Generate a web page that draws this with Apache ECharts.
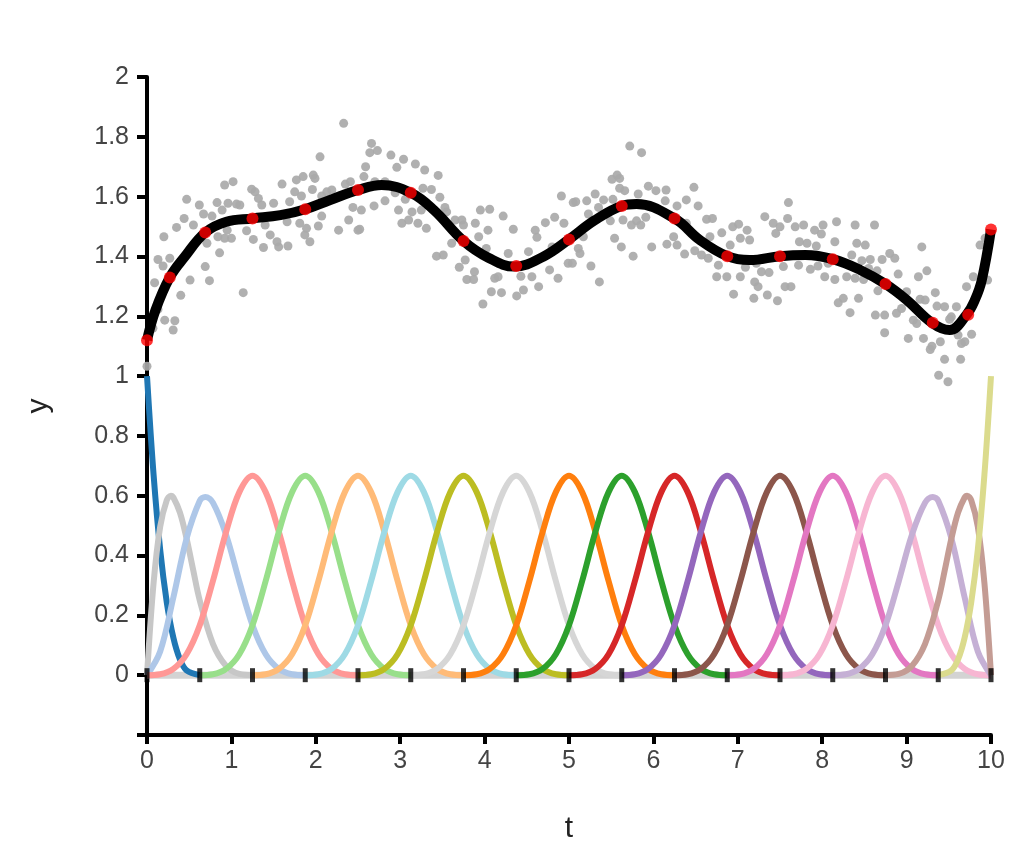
<!DOCTYPE html>
<html>
<head>
<meta charset="utf-8">
<script src="https://cdn.jsdelivr.net/npm/echarts@6/dist/echarts.min.js"></script>
<style>
  html, body { margin: 0; padding: 0; background: #fff; }
  #main { width: 1018px; height: 850px; }
</style>
</head>
<body>
<div id="main"></div>
<script>
// ---------- data ----------
// knots (black marks along y = 0)
var knots = [0, 0.625, 1.25, 1.875, 2.5, 3.125, 3.75, 4.375, 5, 5.625, 6.25, 6.875, 7.5, 8.125, 8.75, 9.375, 10];

// interior basis bump: offsets from its centre and heights
var bumpOffsets = [-1.25, -1.094, -0.9375, -0.781, -0.625, -0.469, -0.3125, -0.156, 0,
                   0.156, 0.3125, 0.469, 0.625, 0.781, 0.9375, 1.094, 1.25];
var bumpValues = [0, 0.003, 0.021, 0.07, 0.167, 0.315, 0.479, 0.612, 0.667,
                  0.612, 0.479, 0.315, 0.167, 0.07, 0.021, 0.003, 0];
var bumpCenters = [1.25, 1.875, 2.5, 3.125, 3.75, 4.375, 5, 5.625, 6.25, 6.875, 7.5, 8.125, 8.75];

// edge basis functions: distance from the nearest end, and heights
var edge0T = [0, 0.078, 0.156, 0.234, 0.3125, 0.39, 0.469, 0.625];
var edge0 = [1, 0.67, 0.42, 0.244, 0.125, 0.053, 0.016, 0];
var edge1T = [0, 0.078, 0.156, 0.234, 0.283, 0.3125, 0.39, 0.469, 0.547, 0.625, 0.781, 0.9375, 1.094, 1.25];
var edge1 = [0, 0.308, 0.496, 0.585, 0.6, 0.594, 0.544, 0.457, 0.352, 0.25, 0.105, 0.031, 0.004, 0];
var edge2T = [0, 0.156, 0.3125, 0.469, 0.625, 0.69, 0.781, 0.9375, 1.094, 1.25, 1.406, 1.5625, 1.719, 1.875];
var edge2 = [0, 0.079, 0.26, 0.457, 0.583, 0.596, 0.577, 0.469, 0.313, 0.167, 0.07, 0.021, 0.003, 0];

// colours of the 19 basis curves, left to right
var basisColors = ['#1f77b4', '#c7c7c7', '#aec7e8', '#ff9896', '#98df8a', '#ffbb78', '#9edae5',
                   '#bcbd22', '#d6d6d6', '#ff7f0e', '#2ca02c', '#d62728', '#9467bd', '#8c564b',
                   '#e377c2', '#f7b6d2', '#c5b0d5', '#c49c94', '#dbdb8d'];

// fitted curve
var fitT = [0, 0.1, 0.27, 0.45, 0.69, 0.94, 1.25, 1.58, 1.875, 2.17, 2.5, 2.78, 3.125, 3.4, 3.75,
            4.05, 4.35, 4.7, 5, 5.3, 5.625, 5.8, 6.25, 6.55, 6.875, 7.14, 7.5, 7.8, 8.125, 8.45,
            8.75, 9.0, 9.3, 9.51, 9.71, 9.81, 9.89, 10];
var fitY = [1.12, 1.22, 1.33, 1.40, 1.48, 1.516, 1.527, 1.538, 1.558, 1.589, 1.622, 1.639, 1.613, 1.555, 1.452,
            1.395, 1.366, 1.40, 1.457, 1.52, 1.569, 1.575, 1.527, 1.455, 1.401, 1.388, 1.401, 1.405, 1.391, 1.355,
            1.308, 1.255, 1.178, 1.154, 1.205, 1.255, 1.32, 1.49];

// red points on the fit
var redT = [0, 0.27, 0.69, 1.25, 1.875, 2.5, 3.125, 3.75, 4.375, 5, 5.625, 6.25, 6.875, 7.5, 8.125, 8.75, 9.31, 9.73, 10];
var redY = [1.12, 1.33, 1.48, 1.527, 1.558, 1.622, 1.613, 1.452, 1.368, 1.457, 1.569, 1.527, 1.401, 1.401, 1.391, 1.308, 1.178, 1.205, 1.49];

// noisy observations (grey dots)
var noisyPoints = [
  [2.33,1.845],[2.05,1.733],[0.92,1.639],[1.02,1.65],[0.47,1.591],[0.62,1.572],[0.83,1.58],[0.89,1.555],
  [0.96,1.578],[1.06,1.575],[1.10,1.572],[1.24,1.625],[1.28,1.616],[1.32,1.594],[1.36,1.572],[1.50,1.578],
  [1.60,1.642],[1.69,1.583],[1.77,1.656],[1.85,1.667],[1.75,1.616],[1.83,1.602],[1.97,1.672],[1.99,1.661],
  [1.96,1.624],[2.07,1.602],[2.13,1.616],[2.19,1.622],[2.29,1.602],[2.35,1.642],[2.41,1.65],[2.44,1.564],
  [2.39,1.522],[2.27,1.488],[2.50,1.488],[2.03,1.502],[2.07,1.535],[1.93,1.449],[1.87,1.472],[1.89,1.494],
  [1.81,1.511],[1.66,1.516],[1.67,1.435],[1.56,1.432],[1.54,1.449],[1.46,1.472],[1.38,1.43],[1.40,1.505],
  [1.26,1.457],[1.18,1.486],[1.00,1.461],[0.92,1.461],[0.84,1.466],[0.95,1.488],[0.86,1.412],[0.71,1.444],
  [0.77,1.535],[0.67,1.542],[0.55,1.505],[0.44,1.527],[0.35,1.497],[0.20,1.466],[0.13,1.39],[0.19,1.368],
  [0.27,1.394],[0.69,1.366],[0.51,1.321],[0.74,1.319],[0.09,1.312],[0.40,1.27],[1.14,1.279],[0.13,1.223],
  [0.21,1.187],[0.33,1.185],[0.31,1.154],[0.07,1.16],[0.0,1.033],
  [2.66,1.778],[2.64,1.747],[2.73,1.754],[2.89,1.739],[3.04,1.725],[2.96,1.698],[3.18,1.709],[3.29,1.689],
  [3.45,1.671],[2.59,1.70],[2.57,1.667],[2.70,1.65],[2.82,1.65],[2.94,1.613],[3.06,1.591],[3.27,1.628],
  [3.37,1.624],[3.47,1.598],[3.53,1.564],[3.55,1.549],[3.25,1.555],[3.14,1.549],[2.98,1.555],[2.82,1.586],
  [2.69,1.569],[2.54,1.555],[2.52,1.491],[3.02,1.511],[3.10,1.522],[3.21,1.511],[3.31,1.494],[3.65,1.522],
  [3.73,1.522],[3.75,1.505],[3.89,1.511],[3.95,1.555],[4.06,1.558],[4.22,1.535],[4.04,1.488],[3.93,1.466],
  [3.61,1.444],[3.43,1.401],[3.51,1.405],[3.70,1.364],[3.77,1.388],[3.79,1.323],[3.87,1.323],[3.88,1.349],
  [4.02,1.427],[4.28,1.41],[4.34,1.491],[4.12,1.327],[4.16,1.332],[4.08,1.282],[4.20,1.279],[3.98,1.241],
  [4.38,1.268],[4.46,1.288],[4.64,1.299],[4.43,1.334],[4.56,1.332],[4.40,1.366],[4.52,1.416],[4.60,1.488],
  [4.62,1.464],[4.72,1.513],[4.83,1.531],[4.94,1.511],[4.91,1.602],[4.77,1.355],[4.87,1.327],[4.80,1.432],
  [4.99,1.377],[5.05,1.58],
  [5.72,1.769],[5.86,1.747],[5.51,1.658],[5.57,1.672],[5.60,1.661],[5.60,1.628],[5.66,1.62],[5.82,1.609],
  [5.94,1.635],[6.03,1.62],[6.15,1.622],[6.48,1.631],[5.31,1.609],[5.21,1.586],[5.08,1.583],[5.41,1.589],
  [5.52,1.591],[5.35,1.564],[5.23,1.542],[6.39,1.589],[6.28,1.569],[6.53,1.569],[6.14,1.586],[6.63,1.524],
  [6.70,1.527],[6.39,1.511],[5.91,1.531],[5.80,1.519],[5.74,1.505],[5.85,1.505],[5.64,1.522],[5.49,1.519],
  [5.17,1.466],[5.54,1.461],[5.62,1.432],[5.76,1.401],[5.98,1.432],[6.16,1.441],[6.24,1.466],[6.28,1.438],
  [6.37,1.408],[6.49,1.419],[6.57,1.405],[6.65,1.394],[6.67,1.466],[6.81,1.479],[6.94,1.499],[7.01,1.508],
  [7.11,1.488],[7.03,1.461],[7.14,1.455],[6.91,1.438],[5.11,1.427],[5.13,1.41],[5.04,1.377],[5.26,1.368],
  [5.36,1.315],[6.75,1.332],[6.87,1.332],[6.77,1.371],[7.03,1.332],[7.09,1.364],[7.22,1.377],[7.28,1.349],
  [7.37,1.346],[7.20,1.315],[7.24,1.299],[6.95,1.274],[7.19,1.26],[7.35,1.271],[7.47,1.252],[7.32,1.533],
  [7.42,1.511],[7.50,1.499],[7.45,1.477],[7.60,1.58],[7.59,1.527],[7.54,1.366],[7.56,1.299],
  [7.68,1.499],[7.78,1.505],[7.91,1.488],[8.01,1.505],[7.99,1.475],[8.17,1.516],[8.39,1.505],[8.62,1.505],
  [8.15,1.449],[7.73,1.449],[7.82,1.444],[7.93,1.435],[7.72,1.371],[7.86,1.357],[7.95,1.368],[8.07,1.377],
  [8.03,1.332],[8.15,1.323],[8.29,1.332],[8.41,1.444],[8.51,1.438],[8.35,1.405],[8.47,1.386],[8.57,1.39],
  [8.55,1.36],[8.39,1.327],[8.49,1.323],[8.65,1.352],[8.71,1.39],[8.80,1.41],[8.86,1.394],[8.90,1.341],
  [7.63,1.299],[8.19,1.245],[8.25,1.26],[8.43,1.26],[8.33,1.212],[8.66,1.285],[8.63,1.204],[8.74,1.204],
  [8.88,1.21],[8.94,1.226],[9.00,1.282],[9.16,1.257],[9.22,1.254],[9.18,1.432],[9.24,1.352],[9.14,1.332],
  [9.34,1.279],[9.36,1.234],[9.45,1.232],[9.59,1.232],[9.53,1.198],[9.08,1.187],[9.12,1.176],[8.74,1.145],
  [9.02,1.126],[9.20,1.126],[9.30,1.10],[9.28,1.089],[9.40,1.115],[9.51,1.19],[9.61,1.137],[9.65,1.109],
  [9.69,1.115],[9.77,1.14],[9.45,1.056],[9.64,1.056],[9.38,1.003],[9.49,0.981],[9.71,1.299],[9.79,1.332],
  [9.87,1.438],[9.96,1.321],[9.93,1.461]
];

// y axis range and step (the -0.2 tick has no label)
var yMin = -0.2, yMax = 2, yStep = 0.2;

// ---------- build series ----------
function pairs(xs, ys) {
    var out = [];
    for (var i = 0; i < ys.length; i++) out.push([xs[i], ys[i]]);
    return out;
}
// same shape, seen from the right end (t measured back from 10)
function mirrored(xs, ys) {
    var out = [];
    for (var i = ys.length - 1; i >= 0; i--) out.push([10 - xs[i], ys[i]]);
    return out;
}

var basisData = [];
basisData.push(pairs(edge0T, edge0));
basisData.push(pairs(edge1T, edge1));
basisData.push(pairs(edge2T, edge2));
for (var c of bumpCenters) {
    var d = [];
    for (var k = 0; k < bumpOffsets.length; k++) d.push([c + bumpOffsets[k], bumpValues[k]]);
    basisData.push(d);
}
basisData.push(mirrored(edge2T, edge2));
basisData.push(mirrored(edge1T, edge1));
basisData.push(mirrored(edge0T, edge0));

var series = [{
    type: 'line',
    data: [[0, 0], [10, 0]],
    symbol: 'none',
    lineStyle: { color: '#d3d3d3', width: 7 },
    z: 1
}];

basisData.forEach(function (d, i) {
    series.push({
        type: 'line',
        data: d,
        smooth: 0.35,
        symbol: 'none',
        lineStyle: { color: basisColors[i], width: 6 },
        z: 2
    });
});

series.push({
    type: 'scatter',
    data: knots.map(function (k) { return [k, 0]; }),
    symbol: 'rect',
    symbolSize: [5, 14],
    itemStyle: { color: '#000' },
    clip: false,
    z: 8
});

series.push({
    type: 'scatter',
    data: noisyPoints,
    symbolSize: 9,
    itemStyle: { color: '#a9a9a9', opacity: 0.92 },
    clip: false,
    z: 4
});

series.push({
    type: 'line',
    data: pairs(fitT, fitY),
    smooth: 0.4,
    symbol: 'none',
    lineStyle: { color: '#000', width: 10 },
    z: 5
});

series.push({
    type: 'scatter',
    data: pairs(redT, redY),
    symbolSize: 12,
    itemStyle: { color: '#ff0000' },
    clip: false,
    z: 6
});

var chart = echarts.init(document.getElementById('main'), null, { width: 1018, height: 850 });

var font = 'Liberation Sans, Arial, sans-serif';

var option = {
    animation: false,
    backgroundColor: '#fff',
    grid: { left: 147, right: 27, top: 77, bottom: 115 },
    xAxis: {
        type: 'value',
        min: 0,
        max: 10,
        interval: 1,
        name: 't',
        nameLocation: 'middle',
        nameGap: 79,
        nameTextStyle: { color: '#222', fontSize: 30, fontFamily: font },
        axisLine: { show: true, onZero: false, lineStyle: { color: '#000', width: 4 } },
        axisTick: { show: true, length: 9, lineStyle: { color: '#000', width: 4 } },
        axisLabel: { color: '#444', fontSize: 25, fontFamily: font, margin: 14 },
        splitLine: { show: false }
    },
    yAxis: {
        type: 'value',
        min: yMin,
        max: yMax,
        interval: yStep,
        name: 'y',
        nameLocation: 'middle',
        nameGap: 93,
        nameTextStyle: { color: '#222', fontSize: 30, fontFamily: font },
        axisLine: { show: true, onZero: false, lineStyle: { color: '#000', width: 4 } },
        axisTick: { show: true, length: 10, lineStyle: { color: '#000', width: 4 } },
        axisLabel: {
            color: '#444', fontSize: 25, fontFamily: font, margin: 18,
            formatter: function (v) {
                if (v < 0) return '';
                return String(Math.round(v * 10) / 10);
            }
        },
        splitLine: { show: false }
    },
    series: series
};

chart.setOption(option);
</script>
</body>
</html>
